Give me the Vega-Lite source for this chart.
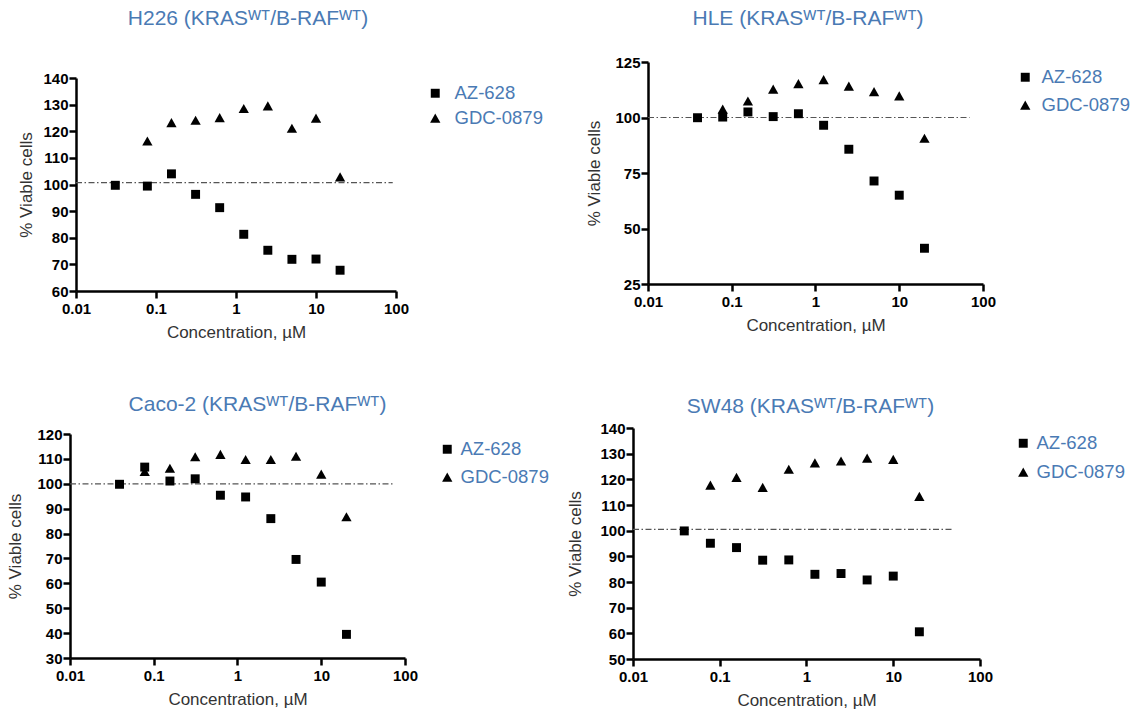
{
  "$schema": "https://vega.github.io/schema/vega-lite/v6.json",
  "padding": {"left": 6, "top": 8, "right": 5, "bottom": 5},
  "background": "white",
  "bounds": "flush",
  "align": "each",
  "columns": 2,
  "spacing": {"row": 137, "column": 228},
  "datasets": {
    "pts": [
      {"panel": "H226", "drug": "AZ-628", "conc": 0.031, "viability": 99.7},
      {"panel": "H226", "drug": "AZ-628", "conc": 0.078, "viability": 99.4},
      {"panel": "H226", "drug": "AZ-628", "conc": 0.156, "viability": 104.0},
      {"panel": "H226", "drug": "AZ-628", "conc": 0.3125, "viability": 96.3},
      {"panel": "H226", "drug": "AZ-628", "conc": 0.625, "viability": 91.3},
      {"panel": "H226", "drug": "AZ-628", "conc": 1.25, "viability": 81.3},
      {"panel": "H226", "drug": "AZ-628", "conc": 2.5, "viability": 75.3},
      {"panel": "H226", "drug": "AZ-628", "conc": 5, "viability": 71.9},
      {"panel": "H226", "drug": "AZ-628", "conc": 10, "viability": 72.0},
      {"panel": "H226", "drug": "AZ-628", "conc": 20, "viability": 67.8},
      {"panel": "H226", "drug": "GDC-0879", "conc": 0.078, "viability": 116.3},
      {"panel": "H226", "drug": "GDC-0879", "conc": 0.156, "viability": 123.2},
      {"panel": "H226", "drug": "GDC-0879", "conc": 0.3125, "viability": 124.1},
      {"panel": "H226", "drug": "GDC-0879", "conc": 0.625, "viability": 125.1},
      {"panel": "H226", "drug": "GDC-0879", "conc": 1.25, "viability": 128.5},
      {"panel": "H226", "drug": "GDC-0879", "conc": 2.5, "viability": 129.5},
      {"panel": "H226", "drug": "GDC-0879", "conc": 5, "viability": 121.1},
      {"panel": "H226", "drug": "GDC-0879", "conc": 10, "viability": 124.9},
      {"panel": "H226", "drug": "GDC-0879", "conc": 20, "viability": 102.8},
      {"panel": "HLE", "drug": "AZ-628", "conc": 0.039, "viability": 99.9},
      {"panel": "HLE", "drug": "AZ-628", "conc": 0.078, "viability": 100.2},
      {"panel": "HLE", "drug": "AZ-628", "conc": 0.156, "viability": 102.5},
      {"panel": "HLE", "drug": "AZ-628", "conc": 0.3125, "viability": 100.4},
      {"panel": "HLE", "drug": "AZ-628", "conc": 0.625, "viability": 101.7},
      {"panel": "HLE", "drug": "AZ-628", "conc": 1.25, "viability": 96.5},
      {"panel": "HLE", "drug": "AZ-628", "conc": 2.5, "viability": 85.7},
      {"panel": "HLE", "drug": "AZ-628", "conc": 5, "viability": 71.4},
      {"panel": "HLE", "drug": "AZ-628", "conc": 10, "viability": 65.0},
      {"panel": "HLE", "drug": "AZ-628", "conc": 20, "viability": 41.1},
      {"panel": "HLE", "drug": "GDC-0879", "conc": 0.078, "viability": 103.7},
      {"panel": "HLE", "drug": "GDC-0879", "conc": 0.156, "viability": 107.4},
      {"panel": "HLE", "drug": "GDC-0879", "conc": 0.3125, "viability": 112.7},
      {"panel": "HLE", "drug": "GDC-0879", "conc": 0.625, "viability": 115.2},
      {"panel": "HLE", "drug": "GDC-0879", "conc": 1.25, "viability": 117.0},
      {"panel": "HLE", "drug": "GDC-0879", "conc": 2.5, "viability": 114.1},
      {"panel": "HLE", "drug": "GDC-0879", "conc": 5, "viability": 111.6},
      {"panel": "HLE", "drug": "GDC-0879", "conc": 10, "viability": 109.7},
      {"panel": "HLE", "drug": "GDC-0879", "conc": 20, "viability": 90.6},
      {"panel": "Caco-2", "drug": "AZ-628", "conc": 0.039, "viability": 99.8},
      {"panel": "Caco-2", "drug": "AZ-628", "conc": 0.078, "viability": 106.7},
      {"panel": "Caco-2", "drug": "AZ-628", "conc": 0.156, "viability": 101.1},
      {"panel": "Caco-2", "drug": "AZ-628", "conc": 0.3125, "viability": 102.0},
      {"panel": "Caco-2", "drug": "AZ-628", "conc": 0.625, "viability": 95.4},
      {"panel": "Caco-2", "drug": "AZ-628", "conc": 1.25, "viability": 94.7},
      {"panel": "Caco-2", "drug": "AZ-628", "conc": 2.5, "viability": 86.0},
      {"panel": "Caco-2", "drug": "AZ-628", "conc": 5, "viability": 69.6},
      {"panel": "Caco-2", "drug": "AZ-628", "conc": 10, "viability": 60.5},
      {"panel": "Caco-2", "drug": "AZ-628", "conc": 20, "viability": 39.5},
      {"panel": "Caco-2", "drug": "GDC-0879", "conc": 0.078, "viability": 104.9},
      {"panel": "Caco-2", "drug": "GDC-0879", "conc": 0.156, "viability": 106.2},
      {"panel": "Caco-2", "drug": "GDC-0879", "conc": 0.3125, "viability": 110.8},
      {"panel": "Caco-2", "drug": "GDC-0879", "conc": 0.625, "viability": 111.8},
      {"panel": "Caco-2", "drug": "GDC-0879", "conc": 1.25, "viability": 109.7},
      {"panel": "Caco-2", "drug": "GDC-0879", "conc": 2.5, "viability": 109.7},
      {"panel": "Caco-2", "drug": "GDC-0879", "conc": 5, "viability": 111.0},
      {"panel": "Caco-2", "drug": "GDC-0879", "conc": 10, "viability": 103.8},
      {"panel": "Caco-2", "drug": "GDC-0879", "conc": 20, "viability": 86.7},
      {"panel": "SW48", "drug": "AZ-628", "conc": 0.039, "viability": 99.9},
      {"panel": "SW48", "drug": "AZ-628", "conc": 0.078, "viability": 95.1},
      {"panel": "SW48", "drug": "AZ-628", "conc": 0.156, "viability": 93.4},
      {"panel": "SW48", "drug": "AZ-628", "conc": 0.3125, "viability": 88.5},
      {"panel": "SW48", "drug": "AZ-628", "conc": 0.625, "viability": 88.6},
      {"panel": "SW48", "drug": "AZ-628", "conc": 1.25, "viability": 83.0},
      {"panel": "SW48", "drug": "AZ-628", "conc": 2.5, "viability": 83.3},
      {"panel": "SW48", "drug": "AZ-628", "conc": 5, "viability": 80.8},
      {"panel": "SW48", "drug": "AZ-628", "conc": 10, "viability": 82.3},
      {"panel": "SW48", "drug": "AZ-628", "conc": 20, "viability": 60.6},
      {"panel": "SW48", "drug": "GDC-0879", "conc": 0.078, "viability": 117.7},
      {"panel": "SW48", "drug": "GDC-0879", "conc": 0.156, "viability": 120.7},
      {"panel": "SW48", "drug": "GDC-0879", "conc": 0.3125, "viability": 116.8},
      {"panel": "SW48", "drug": "GDC-0879", "conc": 0.625, "viability": 123.9},
      {"panel": "SW48", "drug": "GDC-0879", "conc": 1.25, "viability": 126.4},
      {"panel": "SW48", "drug": "GDC-0879", "conc": 2.5, "viability": 127.1},
      {"panel": "SW48", "drug": "GDC-0879", "conc": 5, "viability": 128.2},
      {"panel": "SW48", "drug": "GDC-0879", "conc": 10, "viability": 127.7},
      {"panel": "SW48", "drug": "GDC-0879", "conc": 20, "viability": 113.3}
    ],
    "ref": [
      {"panel": "H226", "start": 0.01, "end": 91, "level": 100.7},
      {"panel": "HLE", "start": 0.01, "end": 69, "level": 100},
      {"panel": "Caco-2", "start": 0.01, "end": 71, "level": 100},
      {"panel": "SW48", "start": 0.01, "end": 48, "level": 100.5}
    ]
  },
  "resolve": {
    "scale": {"shape": "independent", "x": "independent", "y": "independent"},
    "axis": {"x": "independent", "y": "independent"},
    "legend": {"shape": "independent"}
  },
  "concat": [
    {
      "width": 326,
      "height": 229,
      "title": {"text": "H226 (KRASᵂᵀ/B-RAFᵂᵀ)", "dx": 15, "offset": 33},
      "encoding": {
        "y": {"type": "quantitative", "title": "% Viable cells",
          "scale": {"domain": [60, 140], "range": [229, 16], "nice": false, "zero": false},
          "axis": {"values": [60, 70, 80, 90, 100, 110, 120, 130, 140], "offset": -6, "titlePadding": 7}}
      },
      "layer": [
        {
          "data": {"name": "ref"},
          "transform": [{"filter": "datum.panel == 'H226'"}],
          "mark": {"type": "rule", "color": "#555555", "strokeWidth": 1.2, "strokeDash": [6, 2.5, 1.5, 2.5]},
          "encoding": {
            "x": {"field": "start", "type": "quantitative", "title": "Concentration, µM",
              "scale": {"type": "log", "domain": [0.01, 100], "range": [6, 326], "nice": false},
              "axis": {"values": [0.01, 0.1, 1, 10, 100], "format": "~g"}},
            "x2": {"field": "end"},
            "y": {"field": "level"}
          }
        },
        {
          "data": {"name": "pts"},
          "transform": [{"filter": "datum.panel == 'H226'"}],
          "mark": {"type": "point", "filled": true, "color": "black", "opacity": 1, "size": 80},
          "encoding": {
            "x": {"field": "conc", "type": "quantitative", "title": "Concentration, µM"},
            "y": {"field": "viability"},
            "shape": {"field": "drug", "type": "nominal",
              "scale": {"domain": ["AZ-628", "GDC-0879"], "range": ["square", "M0,-1.05L1.15,1L-1.15,1Z"]},
              "legend": {"title": null, "legendX": 356, "legendY": 22, "rowPadding": 6, "labelOffset": 10}}
          }
        }
      ]
    },
    {
      "width": 350,
      "height": 222,
      "title": {"text": "HLE (KRASᵂᵀ/B-RAFᵂᵀ)", "dx": 0, "offset": 26},
      "encoding": {
        "y": {"type": "quantitative", "title": "% Viable cells",
          "scale": {"domain": [25, 125], "nice": false, "zero": false},
          "axis": {"values": [25, 50, 75, 100, 125], "offset": -15, "titlePadding": 11}}
      },
      "layer": [
        {
          "data": {"name": "ref"},
          "transform": [{"filter": "datum.panel == 'HLE'"}],
          "mark": {"type": "rule", "color": "#555555", "strokeWidth": 1.2, "strokeDash": [6, 2.5, 1.5, 2.5]},
          "encoding": {
            "x": {"field": "start", "type": "quantitative", "title": "Concentration, µM",
              "scale": {"type": "log", "domain": [0.01, 100], "range": [15, 350], "nice": false},
              "axis": {"values": [0.01, 0.1, 1, 10, 100], "format": "~g"}},
            "x2": {"field": "end"},
            "y": {"field": "level"}
          }
        },
        {
          "data": {"name": "pts"},
          "transform": [{"filter": "datum.panel == 'HLE'"}],
          "mark": {"type": "point", "filled": true, "color": "black", "opacity": 1, "size": 80},
          "encoding": {
            "x": {"field": "conc", "type": "quantitative", "title": "Concentration, µM"},
            "y": {"field": "viability"},
            "shape": {"field": "drug", "type": "nominal",
              "scale": {"domain": ["AZ-628", "GDC-0879"], "range": ["square", "M0,-1.05L1.15,1L-1.15,1Z"]},
              "legend": {"title": null, "legendX": 383, "legendY": 6, "rowPadding": 9, "labelOffset": 7}}
          }
        }
      ]
    },
    {
      "width": 335,
      "height": 230,
      "title": {"text": "Caco-2 (KRASᵂᵀ/B-RAFᵂᵀ)", "dx": 20, "offset": 12},
      "encoding": {
        "y": {"type": "quantitative", "title": "% Viable cells",
          "scale": {"domain": [30, 120], "range": [230, 6], "nice": false, "zero": false},
          "axis": {"values": [30, 40, 50, 60, 70, 80, 90, 100, 110, 120], "titlePadding": 12}}
      },
      "layer": [
        {
          "data": {"name": "ref"},
          "transform": [{"filter": "datum.panel == 'Caco-2'"}],
          "mark": {"type": "rule", "color": "#555555", "strokeWidth": 1.2, "strokeDash": [6, 2.5, 1.5, 2.5]},
          "encoding": {
            "x": {"field": "start", "type": "quantitative", "title": "Concentration, µM",
              "scale": {"type": "log", "domain": [0.01, 100], "nice": false},
              "axis": {"values": [0.01, 0.1, 1, 10, 100], "format": "~g"}},
            "x2": {"field": "end"},
            "y": {"field": "level"}
          }
        },
        {
          "data": {"name": "pts"},
          "transform": [{"filter": "datum.panel == 'Caco-2'"}],
          "mark": {"type": "point", "filled": true, "color": "black", "opacity": 1, "size": 80},
          "encoding": {
            "x": {"field": "conc", "type": "quantitative", "title": "Concentration, µM"},
            "y": {"field": "viability"},
            "shape": {"field": "drug", "type": "nominal",
              "scale": {"domain": ["AZ-628", "GDC-0879"], "range": ["square", "M0,-1.05L1.15,1L-1.15,1Z"]},
              "legend": {"title": null, "legendX": 368, "legendY": 12, "rowPadding": 9, "labelOffset": 4}}
          }
        }
      ]
    },
    {
      "width": 347,
      "height": 231,
      "title": {"text": "SW48 (KRASᵂᵀ/B-RAFᵂᵀ)", "dx": 4, "offset": 4},
      "encoding": {
        "y": {"type": "quantitative", "title": "% Viable cells",
          "scale": {"domain": [50, 140], "nice": false, "zero": false},
          "axis": {"values": [50, 60, 70, 80, 90, 100, 110, 120, 130, 140], "titlePadding": 15}}
      },
      "layer": [
        {
          "data": {"name": "ref"},
          "transform": [{"filter": "datum.panel == 'SW48'"}],
          "mark": {"type": "rule", "color": "#555555", "strokeWidth": 1.2, "strokeDash": [6, 2.5, 1.5, 2.5]},
          "encoding": {
            "x": {"field": "start", "type": "quantitative", "title": "Concentration, µM",
              "scale": {"type": "log", "domain": [0.01, 100], "nice": false},
              "axis": {"values": [0.01, 0.1, 1, 10, 100], "format": "~g"}},
            "x2": {"field": "end"},
            "y": {"field": "level"}
          }
        },
        {
          "data": {"name": "pts"},
          "transform": [{"filter": "datum.panel == 'SW48'"}],
          "mark": {"type": "point", "filled": true, "color": "black", "opacity": 1, "size": 80},
          "encoding": {
            "x": {"field": "conc", "type": "quantitative", "title": "Concentration, µM"},
            "y": {"field": "viability"},
            "shape": {"field": "drug", "type": "nominal",
              "scale": {"domain": ["AZ-628", "GDC-0879"], "range": ["square", "M0,-1.05L1.15,1L-1.15,1Z"]},
              "legend": {"title": null, "legendX": 381, "legendY": 6, "rowPadding": 10, "labelOffset": 4}}
          }
        }
      ]
    }
  ],
  "config": {
    "font": "Liberation Sans",
    "view": {"stroke": null},
    "axis": {
      "grid": false,
      "domainColor": "black",
      "domainWidth": 2.5,
      "tickColor": "black",
      "tickWidth": 2.5,
      "tickSize": 7,
      "labelFont": "Liberation Sans",
      "labelFontWeight": "bold",
      "labelFontSize": 15,
      "labelColor": "black",
      "labelOverlap": false,
      "labelFlush": false,
      "titleFont": "Liberation Sans",
      "titleFontWeight": "normal",
      "titleFontSize": 17,
      "titleColor": "#333333",
      "titlePadding": 8
    },
    "axisX": {"labelPadding": 3},
    "axisY": {"labelPadding": 1},
    "title": {
      "font": "Liberation Sans",
      "fontSize": 21,
      "fontWeight": "normal",
      "color": "#4a7ab4",
      "anchor": "middle",
      "frame": "group"
    },
    "legend": {
      "orient": "none",
      "padding": 0,
      "labelFont": "Liberation Sans",
      "labelFontSize": 18.5,
      "labelColor": "#4a7ab4",
      "symbolSize": 80,
      "symbolFillColor": "black",
      "symbolStrokeColor": "black",
      "symbolStrokeWidth": 0
    }
  }
}
